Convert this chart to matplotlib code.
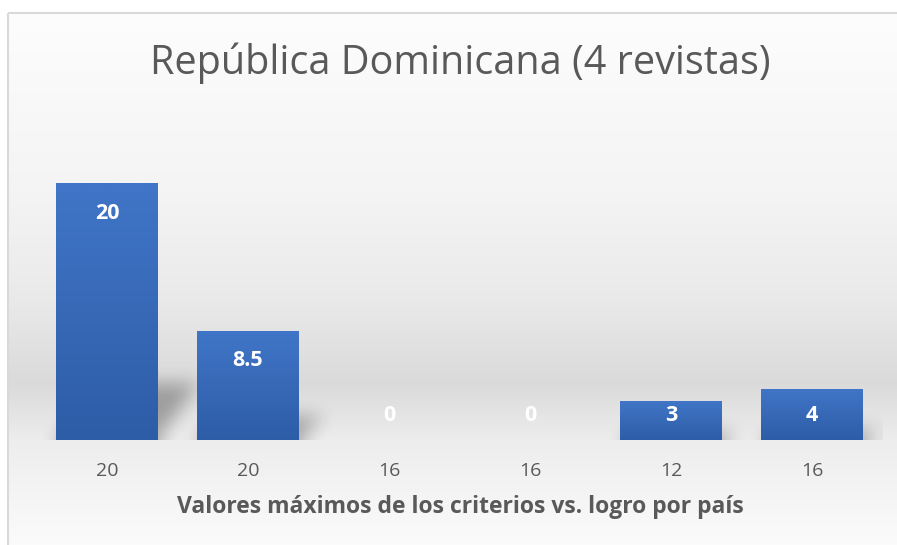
import numpy as np
import matplotlib
matplotlib.use("Agg")
import matplotlib.pyplot as plt
from matplotlib.path import Path
from matplotlib.patches import Rectangle

# datos del gráfico
categorias = ["20", "20", "16", "16", "12", "16"]
valores = [20, 8.5, 0, 0, 3, 4]
titulo = "República Dominicana (4 revistas)"
etiqueta_x = "Valores máximos de los criterios vs. logro por país"

GRIS_TEXTO = "#595959"
AZUL_ARRIBA = np.array([64, 117, 199]) / 255
AZUL_ABAJO = np.array([46, 93, 167]) / 255
FUENTE = ["Open Sans", "DejaVu Sans"]


def desenfocar(a, r):
    """Desenfoque de caja aplicado tres veces (aprox. gaussiano)."""
    for _ in range(3):
        for eje in (0, 1):
            relleno = [(r + 1, r) if k == eje else (0, 0) for k in range(2)]
            c = np.cumsum(np.pad(a, relleno, mode="edge"), axis=eje)
            if eje == 0:
                a = (c[2 * r + 1:] - c[:-2 * r - 1]) / (2 * r + 1)
            else:
                a = (c[:, 2 * r + 1:] - c[:, :-2 * r - 1]) / (2 * r + 1)
    return a


W, H = 897, 545
fig = plt.figure(figsize=(W / 100, H / 100), dpi=100)

# fondo con degradado del área del gráfico
fondo = fig.add_axes([0, 0, 1, 1], zorder=0)
fondo.set_xlim(0, W)
fondo.set_ylim(H, 0)
fondo.axis("off")
ys = np.arange(H)
puntos_y = [0, 14, 200, 300, 383, 440, 545]
puntos_g = [0.995, 0.992, 0.955, 0.915, 0.855, 0.93, 0.985]
gris = np.interp(ys, puntos_y, puntos_g)
img = np.repeat(gris[:, None], 2, axis=1)
img = np.dstack([img, img, img])
fondo.imshow(img[14:], extent=(9, W, H, 14), aspect="auto", interpolation="bilinear")
fondo.add_patch(Rectangle((8, 13), W + 5, H, fill=False, edgecolor="#d9d9d9", linewidth=1.5))

# ejes principales
x0, x1, yb, yt = 36.5, 882.5, 440, 119
ax = fig.add_axes([x0 / W, (H - yb) / H, (x1 - x0) / W, (yb - yt) / H], zorder=1)
ax.patch.set_alpha(0)
pos = np.arange(len(categorias))
ax.set_xlim(-0.5, len(categorias) - 0.5)
ax.set_ylim(0, 25)
ancho = 0.72

barras = ax.bar(pos, valores, width=ancho, color="none", edgecolor="none", zorder=3)

# sombras en perspectiva (difuminadas)
fig.canvas.draw()
pw, ph = int(round(x1 - x0)), int(round(yb - yt))
gx, gy = np.meshgrid(np.arange(pw) + 0.5, np.arange(ph) + 0.5)
pts = np.column_stack([gx.ravel(), gy.ravel()])
origen = ax.transAxes.transform((0, 0))
mascara = np.zeros(pw * ph)
for xi, v in zip(pos, valores):
    if v <= 0:
        continue
    (lx, by), (rx, ty) = ax.transData.transform([(xi - ancho / 2, 0), (xi + ancho / 2, v)]) - origen
    alto = ty - by
    dx = 14 + 0.1 * alto
    dy = 0.22 * alto
    poli = Path([(lx, 0), (rx, 0), (rx + dx, dy), (lx + dx, dy), (lx, 0)])
    mascara = np.maximum(mascara, poli.contains_points(pts))
mascara = desenfocar(mascara.reshape(ph, pw), 8)
sombra = np.zeros((ph, pw, 4))
sombra[..., 3] = 0.3 * mascara
ax.imshow(sombra, extent=(-0.5, len(categorias) - 0.5, 0, 25), origin="lower",
          aspect="auto", zorder=2, interpolation="bilinear")

# barras con degradado vertical
grad = np.linspace(0, 1, 64)[:, None, None]
col = AZUL_ABAJO * (1 - grad) + AZUL_ARRIBA * grad
for b, xi, v in zip(barras, pos, valores):
    if v <= 0:
        continue
    im = ax.imshow(col, extent=(xi - ancho / 2, xi + ancho / 2, 0, v), origin="lower",
                   aspect="auto", zorder=3, interpolation="bilinear")
    im.set_clip_path(b)

# etiquetas de datos
for xi, v in zip(pos, valores):
    y_et = max(v - 2.33, 1.87)
    ax.text(xi, y_et, f"{v:g}", ha="center", va="center", color="white",
            fontsize=15.5, fontweight="bold", family=FUENTE, zorder=4)

ax.set_xticks(pos)
ax.set_xticklabels(categorias, fontsize=14, color=GRIS_TEXTO, family=FUENTE)
ax.tick_params(axis="x", length=0, pad=16)
ax.set_yticks([])
for s in ax.spines.values():
    s.set_visible(False)

fig.text(460 / W, 1 - 63 / H, titulo, ha="center", va="center", fontsize=28.5,
         color=GRIS_TEXTO, family=FUENTE, fontweight="normal")
fig.text(460 / W, 1 - 507 / H, etiqueta_x, ha="center", va="center", fontsize=16.5,
         color=GRIS_TEXTO, family=FUENTE, fontweight="bold")

fig.savefig("out.png", dpi=100)
